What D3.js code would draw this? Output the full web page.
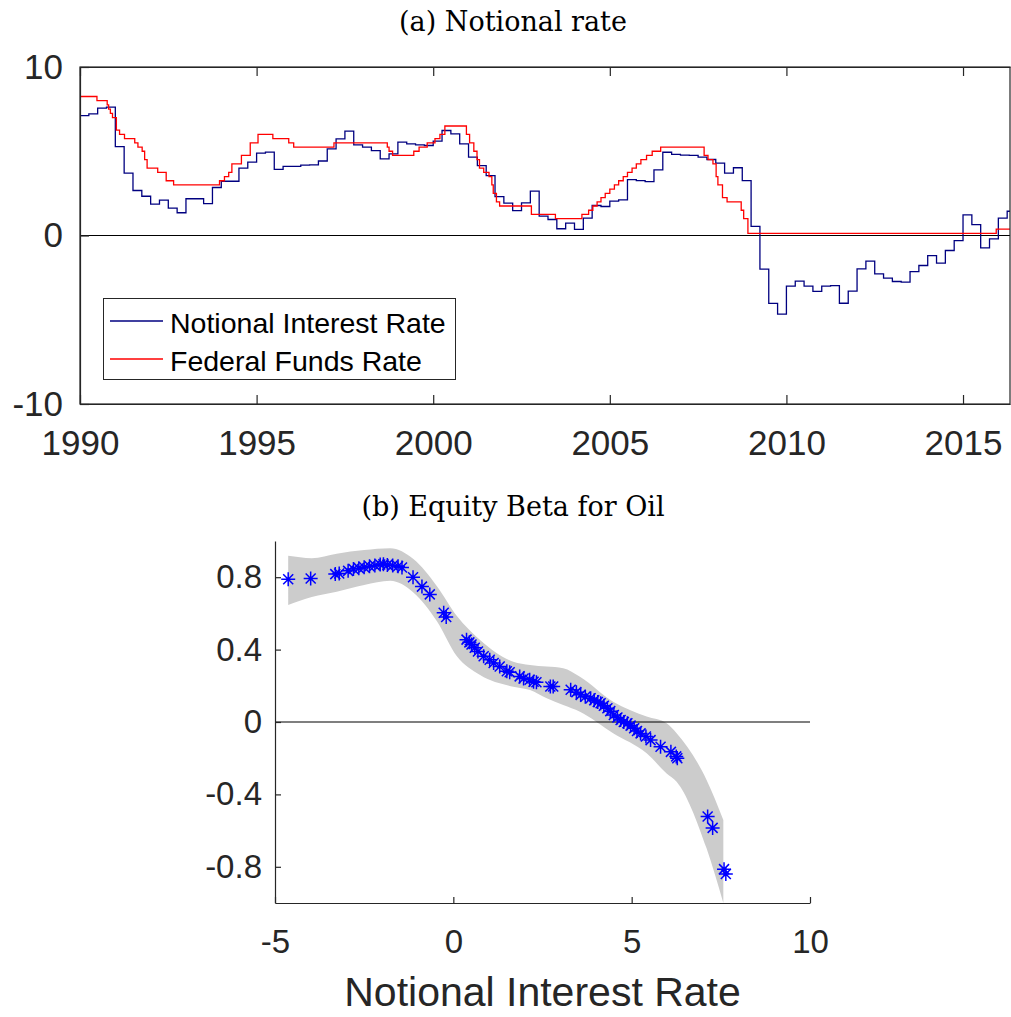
<!DOCTYPE html>
<html>
<head>
<meta charset="utf-8">
<script src="https://cdn.jsdelivr.net/npm/d3@7"></script>
<style>
  body { margin: 0; background: #fff; }
  svg { display: block; }
</style>
</head>
<body>
<svg width="1011" height="1017"></svg>
<script>
// (a) notional rate, quarterly from 1990Q1
let notionalStart = 1990;
let notionalRate = [
  7.12, 7.22, 7.56, 7.62, 5.28, 3.70, 2.67, 2.33, 1.86, 2.10,
  1.62, 1.35, 2.18, 2.18, 1.89, 2.85, 3.22, 3.22, 4.00, 4.35,
  4.89, 4.95, 3.92, 4.10, 4.10, 4.18, 4.19, 4.42, 5.14, 5.74,
  6.19, 5.38, 5.24, 5.04, 4.55, 4.85, 5.54, 5.44, 5.38, 5.34,
  5.60, 6.23, 6.03, 5.44, 4.65, 4.15, 3.55, 2.31, 1.92, 1.48,
  1.94, 2.63, 1.15, 0.95, 0.40, 0.73, 0.36, 1.03, 1.78, 1.72,
  2.04, 2.12, 3.32, 3.26, 3.20, 3.90, 4.94, 4.81, 4.77, 4.75,
  4.65, 4.51, 4.29, 3.70, 4.02, 3.26, 0.54, -2.00, -4.03, -4.67,
  -3.01, -2.71, -3.01, -3.32, -3.01, -2.97, -4.02, -3.30, -1.98, -1.52,
  -2.28, -2.53, -2.73, -2.77, -2.14, -1.78, -1.19, -1.64, -0.89, -0.30,
  1.23, 0.65, -0.73, -0.20, 1.03, 1.44
];

// federal funds rate: dates where it changes and the new level
let ffrDates = [
  1990.0, 1990.48, 1990.77, 1990.81, 1990.86, 1990.92, 1991.03, 1991.12, 1991.26, 1991.55,
  1991.64, 1991.76, 1991.83, 1991.9, 1992.2, 1992.44, 1992.65, 1993.95, 1994.09, 1994.21,
  1994.3, 1994.57, 1994.82, 1995.04, 1995.46, 1995.91, 1996.05, 1997.19, 1998.7, 1998.75,
  1998.85, 1999.45, 1999.6, 1999.83, 2000.05, 2000.19, 2000.33, 2000.94, 2001.03, 2001.15,
  2001.24, 2001.31, 2001.43, 2001.58, 2001.66, 2001.7, 2001.79, 2001.88, 2002.78, 2003.46,
  2004.21, 2004.4, 2004.52, 2004.64, 2004.75, 2004.87, 2005.0, 2005.13, 2005.25, 2005.38,
  2005.5, 2005.63, 2005.75, 2005.88, 2006.04, 2006.2, 2006.44, 2007.67, 2007.78, 2007.92,
  2008.01, 2008.06, 2008.19, 2008.32, 2008.72, 2008.79, 2008.91, 2015.94
];
let ffrValues = [
  8.25, 8.0, 7.75, 7.5, 7.25, 7.0, 6.25, 6.0, 5.75, 5.5,
  5.25, 5.0, 4.5, 4.0, 3.75, 3.25, 3.0, 3.25, 3.5, 3.75,
  4.25, 4.75, 5.5, 6.0, 5.75, 5.5, 5.25, 5.5, 5.25, 5.0,
  4.75, 5.0, 5.25, 5.5, 5.75, 6.0, 6.5, 6.0, 5.5, 5.0,
  4.5, 4.0, 3.75, 3.5, 3.0, 2.5, 2.0, 1.75, 1.25, 1.0,
  1.25, 1.5, 1.75, 2.0, 2.25, 2.5, 2.75, 3.0, 3.25, 3.5,
  3.75, 4.0, 4.25, 4.5, 4.75, 5.0, 5.25, 4.75, 4.5, 4.25,
  3.5, 3.0, 2.25, 2.0, 1.5, 1.0, 0.125, 0.375
];
let yearEnd = 2016.33;
let yearTicks = [1990, 1995, 2000, 2005, 2010, 2015];
let rateTicks = [-10, 0, 10];

// (b) equity beta for oil against the notional rate
let betaRate = [
  -4.63, -4.0, -3.31, -3.2, -2.95, -2.8, -2.65, -2.5, -2.35, -2.2,
  -2.05, -1.96, -1.85, -1.7, -1.55, -1.44, -1.13, -0.88, -0.66, -0.27,
  -0.2, 0.37, 0.45, 0.51, 0.6, 0.69, 0.85, 1.02, 1.13, 1.3,
  1.5, 1.58, 1.86, 1.97, 2.14, 2.25, 2.33, 2.72, 2.8, 3.29,
  3.45, 3.57, 3.7, 3.85, 3.95, 4.05, 4.13, 4.22, 4.32, 4.4,
  4.5, 4.6, 4.69, 4.78, 4.88, 4.97, 5.07, 5.15, 5.25, 5.4,
  5.53, 5.81, 6.1, 6.25, 6.28, 7.13, 7.27, 7.59, 7.64
];
let betaValue = [
  0.789, 0.793, 0.817, 0.82, 0.835, 0.845, 0.85, 0.855, 0.86, 0.865,
  0.87, 0.872, 0.868, 0.865, 0.86, 0.854, 0.80, 0.748, 0.705, 0.604,
  0.58, 0.455, 0.44, 0.428, 0.41, 0.39, 0.363, 0.344, 0.326, 0.307,
  0.28, 0.275, 0.252, 0.24, 0.233, 0.222, 0.22, 0.196, 0.196, 0.178,
  0.165, 0.15, 0.14, 0.131, 0.12, 0.11, 0.104, 0.09, 0.076, 0.06,
  0.039, 0.025, 0.011, 0.0, -0.007, -0.02, -0.035, -0.05, -0.063, -0.08,
  -0.1, -0.137, -0.165, -0.19, -0.2, -0.522, -0.585, -0.813, -0.84
];
let bandRate = [-4.63, -3.97, -3.27, -2.5, -1.77, -1.12, -0.46, 0.10, 0.75, 1.68,
  2.15, 2.62, 3.08, 3.55, 4.48, 5.42, 5.98, 6.26, 7.10, 7.57];
let bandUpper = [0.918, 0.905, 0.930, 0.950, 0.960, 0.900, 0.750, 0.585, 0.453, 0.333,
  0.315, 0.306, 0.297, 0.250, 0.112, 0.030, -0.007, -0.062, -0.320, -0.541];
let bandLower = [0.646, 0.690, 0.720, 0.757, 0.780, 0.716, 0.557, 0.363, 0.260, 0.195,
  0.177, 0.131, 0.094, 0.057, -0.062, -0.173, -0.284, -0.330, -0.698, -1.000];
let rateTicksB = [-5, 0, 5, 10];
let betaTicks = [-0.8, -0.4, 0, 0.4, 0.8];

let axisColor = "#262626";
let plainNum = d => String(d);   // hyphen minus, like the original
let svg = d3.select("svg");

// ---------- panel (a) ----------
let x = d3.scaleLinear().domain([1990, yearEnd]).range([80, 1010]);
let y = d3.scaleLinear().domain([-10, 10]).range([404, 67]);

svg.append("text")
  .attr("x", 513).attr("y", 31)
  .attr("text-anchor", "middle")
  .style("font-family", "DejaVu Serif")
  .style("font-size", "27px")
  .text("(a) Notional rate");

let notional = notionalRate.map((v, i) => [notionalStart + i / 4, v]);
notional.push([yearEnd, notionalRate[notionalRate.length - 1]]);
let ffr = ffrDates.map((d, i) => [d, ffrValues[i]]);
ffr.push([yearEnd, ffrValues[ffrValues.length - 1]]);

let stepLine = d3.line()
  .x(d => x(d[0]))
  .y(d => y(d[1]))
  .curve(d3.curveStepAfter);

// zero line
svg.append("line")
  .attr("x1", x(1990)).attr("x2", x(yearEnd))
  .attr("y1", y(0)).attr("y2", y(0))
  .attr("stroke", "#000").attr("stroke-width", 1.2);

svg.append("path")
  .datum(notional)
  .attr("d", stepLine)
  .attr("fill", "none")
  .attr("stroke", "#000080")
  .attr("stroke-width", 1.3);

svg.append("path")
  .datum(ffr)
  .attr("d", stepLine)
  .attr("fill", "none")
  .attr("stroke", "#ff0000")
  .attr("stroke-width", 1.3);

// axes with inward ticks
let xAxisA = svg.append("g")
  .attr("transform", "translate(0," + y(-10) + ")")
  .call(d3.axisBottom(x).tickValues(yearTicks).tickFormat(plainNum)
    .tickSizeInner(-9).tickSizeOuter(0).tickPadding(26));
let xAxisTop = svg.append("g")
  .attr("transform", "translate(0," + y(10) + ")")
  .call(d3.axisTop(x).tickValues(yearTicks).tickSizeInner(-9).tickSizeOuter(0).tickFormat(""));
let yAxisA = svg.append("g")
  .attr("transform", "translate(" + x(1990) + ",0)")
  .call(d3.axisLeft(y).tickValues(rateTicks).tickFormat(plainNum)
    .tickSizeInner(-9).tickSizeOuter(0).tickPadding(17));

svg.append("rect")
  .attr("x", x(1990)).attr("y", y(10))
  .attr("width", x(yearEnd) - x(1990))
  .attr("height", y(-10) - y(10))
  .attr("fill", "none")
  .attr("stroke", axisColor)
  .attr("stroke-width", 1.2);

// legend
let legend = svg.append("g");
legend.append("rect")
  .attr("x", 103.5).attr("y", 298.5)
  .attr("width", 352).attr("height", 81)
  .attr("fill", "#fff")
  .attr("stroke", axisColor)
  .attr("stroke-width", 1);
let legendItems = [
  { label: "Notional Interest Rate", color: "#000080", y: 321 },
  { label: "Federal Funds Rate", color: "#ff0000", y: 359 }
];
legendItems.forEach(function(d) {
  legend.append("line")
    .attr("x1", 110).attr("x2", 163)
    .attr("y1", d.y).attr("y2", d.y)
    .attr("stroke", d.color).attr("stroke-width", 1.3);
  legend.append("text")
    .attr("x", 170).attr("y", d.y + 12)
    .style("font-family", "Liberation Sans, Arial, sans-serif")
    .style("font-size", "28.5px")
    .attr("fill", "#000")
    .text(d.label);
});

// ---------- panel (b) ----------
let xb = d3.scaleLinear().domain([-5, 10]).range([275, 810]);
let yb = d3.scaleLinear().domain([-1, 1]).range([903, 541]);

svg.append("text")
  .attr("x", 513).attr("y", 516)
  .attr("text-anchor", "middle")
  .style("font-family", "DejaVu Serif")
  .style("font-size", "27px")
  .text("(b) Equity Beta for Oil");

let band = bandRate.map((r, i) => ({ r: r, hi: bandUpper[i], lo: bandLower[i] }));
svg.append("path")
  .datum(band)
  .attr("d", d3.area()
    .x(d => xb(d.r))
    .y0(d => yb(d.lo))
    .y1(d => yb(d.hi))
    .curve(d3.curveMonotoneX))
  .attr("fill", "#cccccc");

svg.append("line")
  .attr("x1", xb(-5)).attr("x2", xb(10))
  .attr("y1", yb(0)).attr("y2", yb(0))
  .attr("stroke", "#000").attr("stroke-width", 1.2);

// asterisk markers
let r = 7, q = 5;
let star = "M" + (-r) + ",0L" + r + ",0M0," + (-r) + "L0," + r +
  "M" + (-q) + "," + (-q) + "L" + q + "," + q + "M" + (-q) + "," + q + "L" + q + "," + (-q);
svg.append("g")
  .selectAll("path")
  .data(betaRate.map((v, i) => [v, betaValue[i]]))
  .enter()
  .append("path")
  .attr("transform", d => "translate(" + xb(d[0]) + "," + yb(d[1]) + ")")
  .attr("d", star)
  .attr("fill", "none")
  .attr("stroke", "#0000ff")
  .attr("stroke-width", 1.5);

let xAxisB = svg.append("g")
  .attr("transform", "translate(0," + yb(-1) + ")")
  .call(d3.axisBottom(xb).tickValues(rateTicksB).tickFormat(plainNum)
    .tickSizeInner(-6).tickSizeOuter(0).tickPadding(27));
let yAxisB = svg.append("g")
  .attr("transform", "translate(" + xb(-5) + ",0)")
  .call(d3.axisLeft(yb).tickValues(betaTicks).tickFormat(plainNum)
    .tickSizeInner(-6).tickSizeOuter(0).tickPadding(13));

svg.append("text")
  .attr("x", (xb(-5) + xb(10)) / 2).attr("y", 1006)
  .attr("text-anchor", "middle")
  .style("font-family", "Liberation Sans, Arial, sans-serif")
  .style("font-size", "41px")
  .attr("fill", axisColor)
  .text("Notional Interest Rate");

// shared axis styling
[xAxisA, xAxisTop, yAxisA, xAxisB, yAxisB].forEach(function(g) {
  g.select(".domain").attr("stroke", axisColor).attr("stroke-width", 1.2);
  g.selectAll(".tick line").attr("stroke", axisColor).attr("stroke-width", 1.2);
  g.selectAll(".tick text")
    .attr("fill", axisColor)
    .style("font-family", "Liberation Sans, Arial, sans-serif")
    .style("font-size", "35px");
});
yAxisB.selectAll(".tick text").style("font-size", "33px");
xAxisB.selectAll(".tick text").style("font-size", "33px");
</script>
</body>
</html>
